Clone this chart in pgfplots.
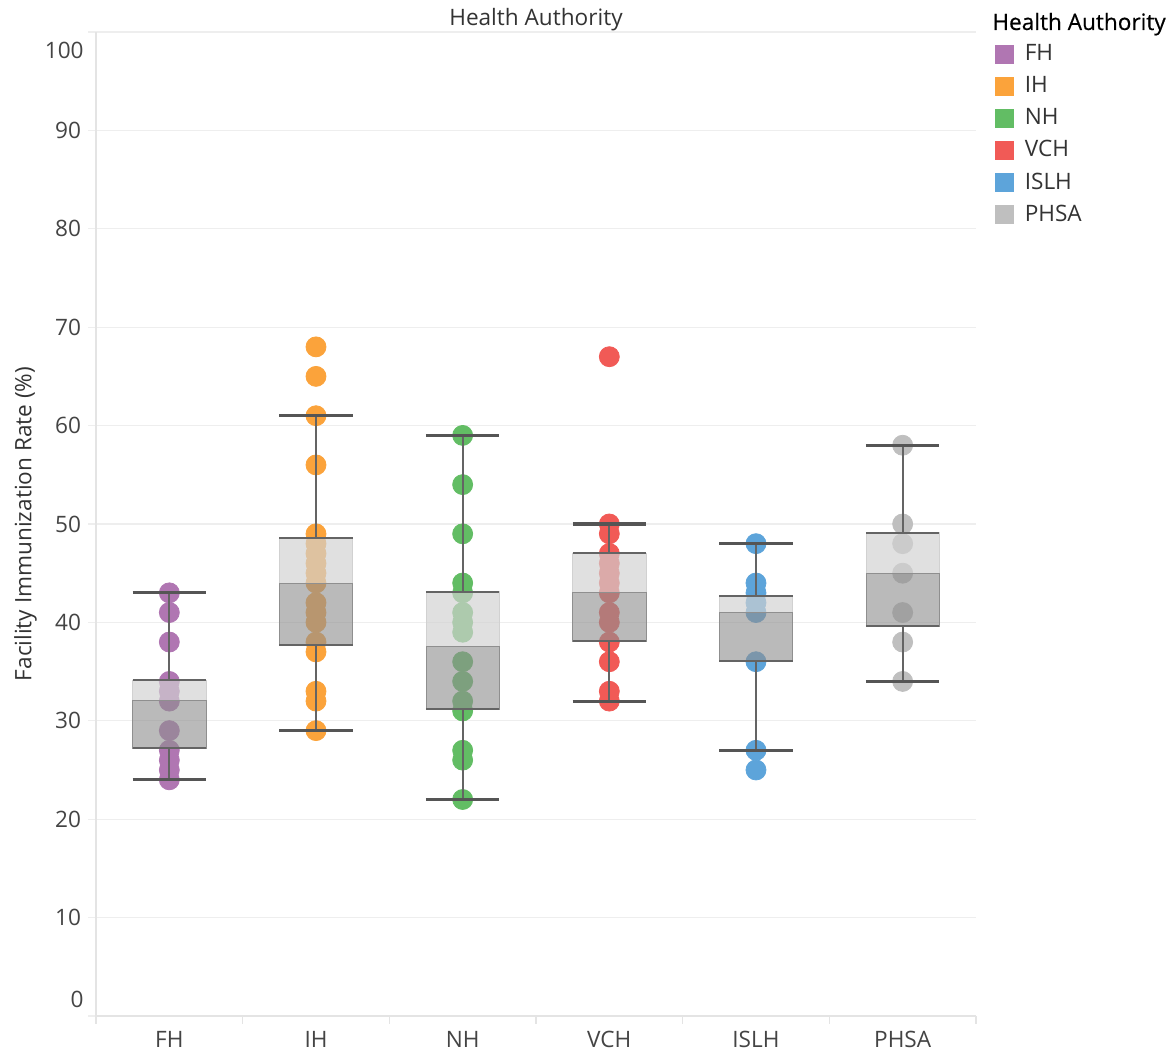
\documentclass[border=0pt]{standalone}
\usepackage{fontspec}
\setmainfont{Open Sans}
\newfontfamily\headfont{Open Sans}[FakeBold=0.5]
\usepackage{pgfplots}
\usepgfplotslibrary{statistics}
\pgfplotsset{compat=1.18}

\definecolor{cFH}{RGB}{176,118,178}
\definecolor{cIH}{RGB}{251,163,59}
\definecolor{cNH}{RGB}{98,189,100}
\definecolor{cVCH}{RGB}{241,90,86}
\definecolor{cISLH}{RGB}{93,164,218}
\definecolor{cPHSA}{RGB}{191,191,191}
\definecolor{gridc}{RGB}{238,238,238}
\definecolor{axisc}{RGB}{228,228,228}
\definecolor{boxlight}{RGB}{209,209,209}
\definecolor{boxdark}{RGB}{143,143,143}
\definecolor{whisk}{RGB}{100,100,100}
\definecolor{capc}{RGB}{85,85,85}
\definecolor{ticktxt}{RGB}{68,68,68}
\definecolor{txt}{RGB}{51,51,51}

\newcommand{\fs}{\fontsize{11.3}{13.5}\selectfont}

% two-tone box (Q1-median dark, median-Q3 light), caps as wide as the box
\pgfplotsset{
  boxplot/draw/box/.code={%
    \fill[boxlight, fill opacity=0.68]
      (boxplot box cs:\pgfplotsboxplotvalue{median},0) rectangle
      (boxplot box cs:\pgfplotsboxplotvalue{upper quartile},1);
    \fill[boxdark, fill opacity=0.62]
      (boxplot box cs:\pgfplotsboxplotvalue{lower quartile},0) rectangle
      (boxplot box cs:\pgfplotsboxplotvalue{median},1);
    \draw[whisk, line width=1pt]
      (boxplot box cs:\pgfplotsboxplotvalue{lower quartile},0) --
      (boxplot box cs:\pgfplotsboxplotvalue{lower quartile},1)
      (boxplot box cs:\pgfplotsboxplotvalue{upper quartile},0) --
      (boxplot box cs:\pgfplotsboxplotvalue{upper quartile},1);
  },
  boxplot/draw/median/.code={},
  boxplot/draw/lower whisker/.code={%
    \draw[whisk, line width=0.85pt]
      (boxplot cs:\pgfplotsboxplotvalue{lower quartile}) --
      (boxplot cs:\pgfplotsboxplotvalue{lower whisker});
    \draw[capc, line width=1.6pt]
      (boxplot box cs:\pgfplotsboxplotvalue{lower whisker},0) --
      (boxplot box cs:\pgfplotsboxplotvalue{lower whisker},1);
  },
  boxplot/draw/upper whisker/.code={%
    \draw[whisk, line width=0.85pt]
      (boxplot cs:\pgfplotsboxplotvalue{upper quartile}) --
      (boxplot cs:\pgfplotsboxplotvalue{upper whisker});
    \draw[capc, line width=1.6pt]
      (boxplot box cs:\pgfplotsboxplotvalue{upper whisker},0) --
      (boxplot box cs:\pgfplotsboxplotvalue{upper whisker},1);
  },
  pts/.style={only marks, mark=*, mark size=5pt, color=#1,
    mark options={draw=none, fill=#1}},
  bx/.style={forget plot, boxplot/draw direction=y,
    boxplot prepared={#1, box extend=0.5}},
}

\begin{document}
\begin{tikzpicture}
\useasboundingbox (-48pt,-18.5pt) rectangle (539.5pt,508pt);
\begin{axis}[
  name=ax,
  at={(0,0)}, anchor=south west,
  scale only axis,
  width=440pt, height=492pt,
  xmin=-0.5, xmax=5.5,
  ymin=0, ymax=100,
  clip marker paths=true,
  axis lines*=left,
  axis line style={draw=axisc, line width=0.6pt},
  font=\fs,
  xtick={0,...,5},
  xticklabels={FH,IH,NH,VCH,ISLH,PHSA},
  xtick style={draw=none},
  extra x ticks={-0.5,0.5,...,5.5},
  extra x tick labels={},
  extra x tick style={xtick style={draw=axisc, line width=0.6pt}},
  ytick={0,10,...,100},
  yticklabels={,10,20,30,40,50,60,70,80,90,},
  ytick style={draw=gridc, line width=0.6pt},
  ymajorgrids,
  grid style={gridc, line width=0.6pt},
  tick align=outside,
  major tick length=4pt,
  ticklabel style={text=ticktxt, font=\fs},
  /pgf/number format/assume math mode=true,
  ylabel={Facility Immunization Rate (\%)},
  ylabel style={at={(axis description cs:-0.08,0.5)}, anchor=center,
    text=txt, font=\fs},
  legend style={at={(1.0216,0.9915)}, anchor=north west, draw=none,
    fill=none, inner sep=0pt, column sep=3.2pt, row sep=2.4pt,
    font=\fs, text=txt, cells={anchor=west}},
  legend image code/.code={%
    \fill[#1, draw=none] (0pt,-4.75pt) rectangle (9.5pt,4.75pt);},
]

% facility points, one series per authority
\addplot[pts=cFH] coordinates {(0,43) (0,41) (0,38) (0,34) (0,33) (0,32)
  (0,29) (0,27) (0,26) (0,25) (0,24)};
\addlegendentry{FH}
\addplot[pts=cIH] coordinates {(1,68) (1,65) (1,61) (1,56) (1,49) (1,48)
  (1,47) (1,46) (1,45) (1,44) (1,42) (1,41) (1,40) (1,38) (1,37) (1,33)
  (1,32) (1,29)};
\addlegendentry{IH}
\addplot[pts=cNH] coordinates {(2,59) (2,54) (2,49) (2,44) (2,43) (2,41)
  (2,40) (2,39) (2,36) (2,34) (2,32) (2,31) (2,27) (2,26) (2,22)};
\addlegendentry{NH}
\addplot[pts=cVCH] coordinates {(3,67) (3,50) (3,49) (3,47) (3,46) (3,45)
  (3,44) (3,43) (3,41) (3,40) (3,38) (3,36) (3,33) (3,32)};
\addlegendentry{VCH}
\addplot[pts=cISLH] coordinates {(4,48) (4,44) (4,43) (4,42) (4,41) (4,36)
  (4,27) (4,25)};
\addlegendentry{ISLH}
\addplot[pts=cPHSA] coordinates {(5,58) (5,50) (5,48) (5,45) (5,41) (5,38)
  (5,34)};
\addlegendentry{PHSA}

% box plots drawn over the points
\addplot[bx={draw position=0, lower whisker=24, lower quartile=27.2,
  median=32.1, upper quartile=34.1, upper whisker=43}] coordinates {};
\addplot[bx={draw position=1, lower whisker=29, lower quartile=37.7,
  median=44, upper quartile=48.6, upper whisker=61}] coordinates {};
\addplot[bx={draw position=2, lower whisker=22, lower quartile=31.2,
  median=37.6, upper quartile=43.1, upper whisker=59}] coordinates {};
\addplot[bx={draw position=3, lower whisker=32, lower quartile=38.1,
  median=43, upper quartile=47.05, upper whisker=50}] coordinates {};
\addplot[bx={draw position=4, lower whisker=27, lower quartile=36.1,
  median=41, upper quartile=42.7, upper whisker=48}] coordinates {};
\addplot[bx={draw position=5, lower whisker=34, lower quartile=39.6,
  median=45, upper quartile=49.1, upper whisker=58}] coordinates {};
\end{axis}

% end labels of the y axis sit inside the plot band
\node[anchor=east, inner sep=0pt, text=ticktxt, font=\fs]
  at ([xshift=-6pt, yshift=8.25pt]ax.south west) {0};
\node[anchor=east, inner sep=0pt, text=ticktxt, font=\fs]
  at ([xshift=-6pt, yshift=-9pt]ax.north west) {100};
\node[anchor=base, inner sep=0pt, text=txt, font=\fs]
  at ([yshift=3pt]ax.north) {Health Authority};
\node[anchor=base west, inner sep=0pt, text=black, font=\headfont\fs]
  at ([xshift=448pt, yshift=493pt]ax.south west) {Health Authority};
\end{tikzpicture}
\end{document}
